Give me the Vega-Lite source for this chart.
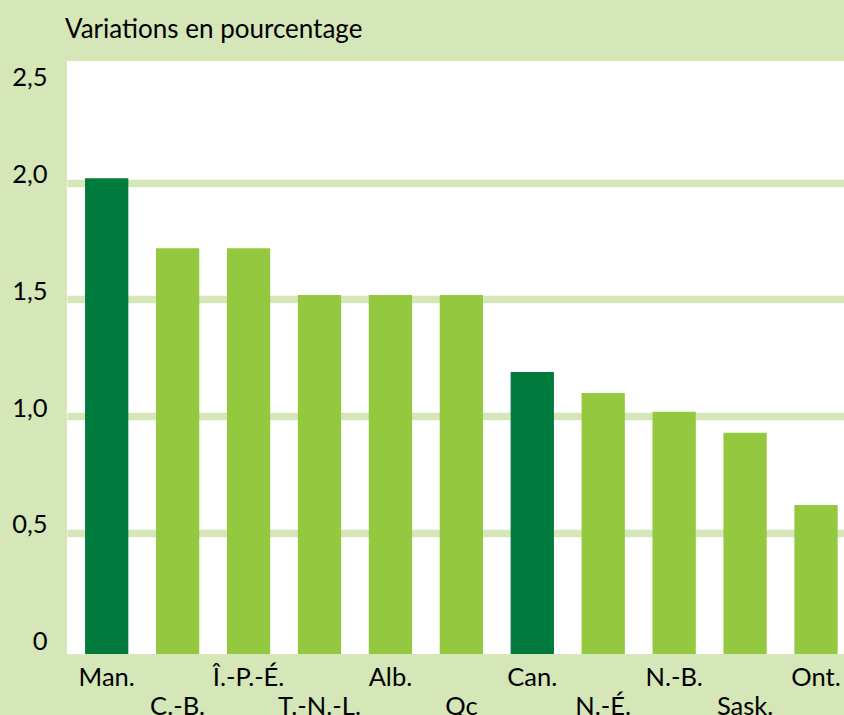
{
  "$schema": "https://vega.github.io/schema/vega-lite/v6.json",
  "width": 777,
  "height": 593,
  "autosize": {"type": "none"},
  "padding": {"left": 67, "top": 61, "right": 0, "bottom": 61},
  "background": "#d5e6b8",
  "title": {"text": "Variations en pourcentage", "anchor": "start", "frame": "group", "baseline": "alphabetic", "offset": -3, "dx": -2, "font": "Lato", "fontSize": 26, "fontWeight": "normal", "color": "#000000"},
  "config": {
    "view": {"fill": "#ffffff", "stroke": null},
    "font": "Lato"
  },
  "data": {
    "values": [
      {"province": "Man.", "variation": 2.0, "type": "foncé"},
      {"province": "C.-B.", "variation": 1.7, "type": "clair"},
      {"province": "Î.-P.-É.", "variation": 1.7, "type": "clair"},
      {"province": "T.-N.-L.", "variation": 1.5, "type": "clair"},
      {"province": "Alb.", "variation": 1.5, "type": "clair"},
      {"province": "Qc", "variation": 1.5, "type": "clair"},
      {"province": "Can.", "variation": 1.17, "type": "foncé"},
      {"province": "N.-É.", "variation": 1.08, "type": "clair"},
      {"province": "N.-B.", "variation": 1.0, "type": "clair"},
      {"province": "Sask.", "variation": 0.91, "type": "clair"},
      {"province": "Ont.", "variation": 0.6, "type": "clair"}
    ]
  },
  "mark": {"type": "bar"},
  "encoding": {
    "x": {
      "field": "province",
      "type": "nominal",
      "sort": null,
      "scale": {"paddingInner": 0.39, "paddingOuter": 0.172, "align": 0.74},
      "axis": {
        "title": null,
        "domain": false,
        "ticks": false,
        "labelAngle": 0,
        "labelFont": "Lato",
        "labelFontSize": 25.5,
        "labelColor": "#000000",
        "labelPadding": 11,
        "labelLineHeight": 29,
        "labelBaseline": "top",
        "labelOverlap": false,
        "labelBound": false,
        "labelFlush": false,
        "labelExpr": "indexof(['C.-B.','T.-N.-L.','Qc','N.-É.','Sask.'], datum.value) >= 0 ? ['', datum.value] : datum.value"
      }
    },
    "y": {
      "field": "variation",
      "type": "quantitative",
      "scale": {"domain": [-0.038, 2.5026], "nice": false, "zero": false},
      "axis": {
        "title": null,
        "domain": false,
        "ticks": false,
        "values": [0, 0.5, 1, 1.5, 2, 2.5],
        "tickOffset": 4.3,
        "grid": true,
        "gridColor": "#d5e6b8",
        "gridWidth": 7.6,
        "gridOpacity": {"condition": {"test": "datum.value == 0 || datum.value == 2.5", "value": 0}, "value": 1},
        "labelFont": "Lato",
        "labelFontSize": 25.5,
        "labelColor": "#000000",
        "labelPadding": 20,
        "labelBaseline": {"condition": {"test": "datum.value == 2.5", "value": "top"}, "value": "alphabetic"},
        "labelFlush": false,
        "labelBound": false,
        "labelOverlap": false,
        "labelExpr": "datum.value == 0 ? '0' : replace(format(datum.value, '.1f'), '.', ',')"
      }
    },
    "y2": {"datum": -0.038},
    "color": {
      "field": "type",
      "type": "nominal",
      "scale": {"domain": ["foncé", "clair"], "range": ["#007a3d", "#93c83f"]},
      "legend": null
    }
  }
}
